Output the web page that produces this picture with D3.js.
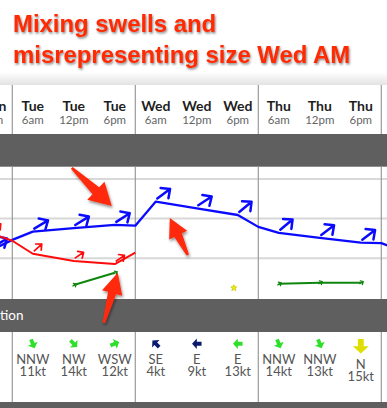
<!DOCTYPE html>
<html><head><meta charset="utf-8">
<script src="https://cdn.jsdelivr.net/npm/d3@7"></script>
<style>body{margin:0;background:#fff;overflow:hidden}svg{display:block}</style>
</head><body>
<svg id="c" width="387" height="408"></svg>
<script>
// ---------- data ----------
const titleLines = ["Mixing swells and", "misrepresenting size Wed AM"];
const days = ["Mon", "Tue", "Wed", "Thu", "Fri"];
const columnTimes = ["Mon 18","Tue 06","Tue 12","Tue 18","Wed 06","Wed 12","Wed 18","Thu 06","Thu 12","Thu 18"];
const columnDayLabels = ["Mon","Tue","Tue","Tue","Wed","Wed","Wed","Thu","Thu","Thu"];
const columnTimeLabels = ["6pm","6am","12pm","6pm","6am","12pm","6pm","6am","12pm","6pm"];

const swellTimes = ["Mon 18","Tue 00","Tue 06","Tue 12","Tue 18","Wed 00","Wed 06","Wed 12","Wed 18","Thu 00","Thu 06","Thu 12","Thu 18","Fri 00","Fri 06"];
const swellPrimary    = [1.21,1.46,1.67,1.76,1.84,1.82,2.43,2.26,2.09,1.79,1.64,1.51,1.39,1.38,1.18];
const swellPrimaryDir = [239,null,239,238,237,null,233,237,230,null,230,233,233,null,233];
const swellSecondary    = [1.62,1.44,1.11,0.93,0.85,1.14,null,null,null,null,null,null,null,null,null];
const swellSecondaryDir = [228,null,228,236,235,null,null,null,null,null,null,null,null,null,null];
const swellTertiary    = [null,null,null,0.32,0.63,null,null,null,null,null,0.35,0.38,0.38,null,0.66];
const swellTertiaryDir = [null,null,null,240,240,null,null,null,null,null,240,240,240,null,240];
const swellMinor    = [null,null,null,null,null,null,null,null,0.25,null,null,null,null,null,null];

const windTimes  = ["Tue 06","Tue 12","Tue 18","Wed 06","Wed 12","Wed 18","Thu 06","Thu 12","Thu 18"];
const windDirs   = ["NNW","NW","WSW","SE","E","E","NNW","NNW","N"];
const windSpeeds = [11,14,12,4,9,13,14,13,15];

const gridValues = [1, 2, 3];
const bandLabel = "Wind Speed & Direction";

// ---------- layout ----------
const svg = d3.select("#c");
const W = 387;
const x = d3.scaleLinear().domain([0, 9]).range([12.3, 381.3]);   // column units, Tue 00 = 0
const hourToCol = d3.scaleLinear().domain([0, 6, 12, 18, 24]).range([0, 0.5, 1.5, 2.5, 3]);
const y = d3.scaleLinear().domain([0, 3]).range([297.7, 179]);
function tx(t) {
  const [d, h] = t.split(" ");
  return x((days.indexOf(d) - 1) * 3 + hourToCol(+h));
}
const compass = {N:0,NNE:22.5,NE:45,ENE:67.5,E:90,ESE:112.5,SE:135,SSE:157.5,S:180,SSW:202.5,SW:225,WSW:247.5,W:270,WNW:292.5,NW:315,NNW:337.5};

const defs = svg.append("defs");
const g1 = defs.append("linearGradient").attr("id","fade").attr("x1",0).attr("y1",0).attr("x2",0).attr("y2",1);
g1.append("stop").attr("offset","0%").attr("stop-color","#ffffff");
g1.append("stop").attr("offset","100%").attr("stop-color","#e3e3e3");
const f1 = defs.append("filter").attr("id","tshadow").attr("x","-10%").attr("y","-30%").attr("width","120%").attr("height","160%");
f1.append("feDropShadow").attr("dx",1).attr("dy",1.5).attr("stdDeviation",1).attr("flood-color","#333").attr("flood-opacity",0.6);
const f2 = defs.append("filter").attr("id","ashadow").attr("x","-50%").attr("y","-50%").attr("width","200%").attr("height","200%");
f2.append("feDropShadow").attr("dx",1).attr("dy",2).attr("stdDeviation",1.5).attr("flood-color","#000").attr("flood-opacity",0.45);

// title area
svg.append("rect").attr("x",0).attr("y",0).attr("width",W).attr("height",72).attr("fill","#fff");
svg.append("rect").attr("x",0).attr("y",72).attr("width",W).attr("height",13).attr("fill","url(#fade)");
svg.append("g").attr("filter","url(#tshadow)")
  .selectAll("text").data(titleLines).join("text")
  .attr("x",13).attr("y",(d,i)=>32 + i*31)
  .attr("font-family","Liberation Sans, Arial, sans-serif").attr("font-weight","bold")
  .attr("font-size",23.9).attr("fill","#ff2a00").text(d=>d);

// bands
const bands = [[134,166.7],[299,332],[402,420]];
svg.selectAll("rect.band").data(bands).join("rect").attr("class","band")
  .attr("x",0).attr("y",d=>d[0]).attr("width",W).attr("height",d=>d[1]-d[0]).attr("fill","#5f5f5f");
svg.append("text").attr("x",23.5).attr("y",320).attr("text-anchor","end")
  .attr("font-family","Lato, sans-serif").attr("font-size",13.5).attr("fill","#fff").text(bandLabel);

// grid
svg.selectAll("line.grid").data(gridValues).join("line").attr("class","grid")
  .attr("x1",0).attr("x2",W).attr("y1",d=>y(d)).attr("y2",d=>y(d))
  .attr("stroke","#d8d8d8").attr("stroke-width",2);

// dividers
const dayBounds = d3.range(0, 4).map(i => x(i*3));
const segs = [[85,134],[166.7,299],[332,402]];
segs.forEach(s => {
  svg.selectAll(null).data(dayBounds).join("line")
    .attr("x1",d=>d).attr("x2",d=>d).attr("y1",s[0]).attr("y2",s[1])
    .attr("stroke","#9a9a9a").attr("stroke-width",1.2);
});

// header labels
const hdr = svg.append("g").attr("font-family","Lato, sans-serif").attr("text-anchor","middle");
hdr.selectAll("text.day").data(columnTimes).join("text").attr("class","day")
  .attr("x",d=>tx(d)).attr("y",111).attr("font-weight","bold").attr("font-size",14).attr("fill","#1e1e1e")
  .text((d,i)=>columnDayLabels[i]);
hdr.selectAll("text.time").data(columnTimes).join("text").attr("class","time")
  .attr("x",d=>tx(d)).attr("y",123.5).attr("font-size",11.5).attr("fill","#666")
  .text((d,i)=>columnTimeLabels[i]);

// swell lines
const series = [
  {vals: swellPrimary, dirs: swellPrimaryDir, color:"#0a0aff", sw:2.3, L:16, a:9.5, asw:2.5, off:[1.5,-3]},
  {vals: swellSecondary, dirs: swellSecondaryDir, color:"#ff0a0a", sw:2, L:10, a:6, asw:1.7, off:[1.5,-3]},
  {vals: swellTertiary, dirs: swellTertiaryDir, color:"#0f870f", sw:2, L:4, a:3, asw:1.3, off:[-1,1]}
];
const line = d3.line().defined(d => d.v != null).x(d => tx(d.t)).y(d => y(d.v));
series.forEach(s => {
  const pts = swellTimes.map((t,i) => ({t, v: s.vals[i], dir: s.dirs[i]}));
  svg.append("path").datum(pts).attr("d", line).attr("fill","none")
    .attr("stroke", s.color).attr("stroke-width", s.sw).attr("stroke-linejoin","round");
  const arr = pts.filter(p => p.v != null && p.dir != null);
  svg.append("g").selectAll("path").data(arr).join("path")
    .attr("d", p => {
      const b = (p.dir + 180) * Math.PI / 180;
      const ux = Math.sin(b), uy = -Math.cos(b);
      const x0 = tx(p.t) + s.off[0], y0 = y(p.v) + s.off[1];
      const hx = x0 + s.L*ux, hy = y0 + s.L*uy;
      const r1 = [(-ux)*Math.cos(0.75) - (-uy)*Math.sin(0.75), (-ux)*Math.sin(0.75) + (-uy)*Math.cos(0.75)];
      const r2 = [(-ux)*Math.cos(-0.75) - (-uy)*Math.sin(-0.75), (-ux)*Math.sin(-0.75) + (-uy)*Math.cos(-0.75)];
      return `M${x0},${y0}L${hx},${hy}M${hx + s.a*r1[0]},${hy + s.a*r1[1]}L${hx},${hy}L${hx + s.a*r2[0]},${hy + s.a*r2[1]}`;
    })
    .attr("fill","none").attr("stroke", s.color).attr("stroke-width", s.asw)
    .attr("stroke-linecap","round").attr("stroke-linejoin","round");
});
// minor isolated swell point
const minorPts = swellTimes.map((t,i)=>({t, v: swellMinor[i]})).filter(d=>d.v!=null);
svg.append("g").selectAll("path").data(minorPts).join("path")
  .attr("transform", d => `translate(${tx(d.t)-4},${y(d.v)})`)
  .attr("d","M0,-3L1,-1L3,-1L1.5,0.5L2,3L0,1.5L-2,3L-1.5,0.5L-3,-1L-1,-1Z")
  .attr("fill","#f0ec00").attr("stroke","#b8c000").attr("stroke-width",0.6);

// wind row
const windG = svg.append("g").attr("font-family","Lato, sans-serif").attr("text-anchor","middle").attr("fill","#555");
const windColor = s => s < 10 ? "#0b1a6e" : (s < 15 ? "#2ee02a" : "#dede00");
const windSize = s => s < 15 ? 9.5 : 14.5;
windTimes.forEach((t,i) => {
  const s = windSpeeds[i], sz = windSize(s), cx = tx(t), cy = 339 + sz/2;
  const bearing = compass[windDirs[i]] + 180;
  const h = sz/2;
  windG.append("path")
    .attr("d", `M0,${-h}L${sz*0.55},${-h+sz*0.5}L${sz*0.2},${-h+sz*0.5}L${sz*0.2},${h}L${-sz*0.2},${h}L${-sz*0.2},${-h+sz*0.5}L${-sz*0.55},${-h+sz*0.5}Z`)
    .attr("transform", `translate(${cx},${cy}) rotate(${bearing})`)
    .attr("fill", windColor(s));
  const dy = sz - 9.5;
  const tEl = windG.append("text").attr("x",cx).attr("y",364 + dy).attr("font-size",13);
  tEl.append("tspan").attr("x",cx).text(windDirs[i]);
  tEl.append("tspan").attr("x",cx).attr("dy",11.5).text(s + "kt");
});

// annotation arrows (pointing at data)
const annotations = [
  {t:"Tue 18", v: swellPrimary[swellTimes.indexOf("Tue 18")], tip:[-3,-19], tail:[-40,-38], h:22, w:12.5, wt:1.3, wh:4.8},
  {t:"Wed 06", v: swellPrimary[swellTimes.indexOf("Wed 06")], tip:[14,16.5], tail:[18,37], h:19, w:10, wt:1.3, wh:4.2},
  {t:"Tue 18", v: swellTertiary[swellTimes.indexOf("Tue 18")], tip:[3,0], tail:[-14,50], h:21, w:10.5, wt:1.3, wh:4.2}
];
svg.append("g").attr("filter","url(#ashadow)").selectAll("path").data(annotations).join("path")
  .attr("d", a => {
    const px = tx(a.t) + a.tip[0], py = y(a.v) + a.tip[1];
    const Tx = px + a.tail[0], Ty = py + a.tail[1];
    const L = Math.hypot(px-Tx, py-Ty), ux = (px-Tx)/L, uy = (py-Ty)/L, nx = -uy, ny = ux;
    const bx = px - ux*a.h, by = py - uy*a.h;
    const P = [[Tx+nx*a.wt,Ty+ny*a.wt],[bx+nx*a.wh,by+ny*a.wh],[bx+nx*a.w,by+ny*a.w],[px,py],
               [bx-nx*a.w,by-ny*a.w],[bx-nx*a.wh,by-ny*a.wh],[Tx-nx*a.wt,Ty-ny*a.wt]];
    return "M" + P.map(p=>p.join(",")).join("L") + "Z";
  })
  .attr("fill","#ff2a0a");
</script>
</body></html>
